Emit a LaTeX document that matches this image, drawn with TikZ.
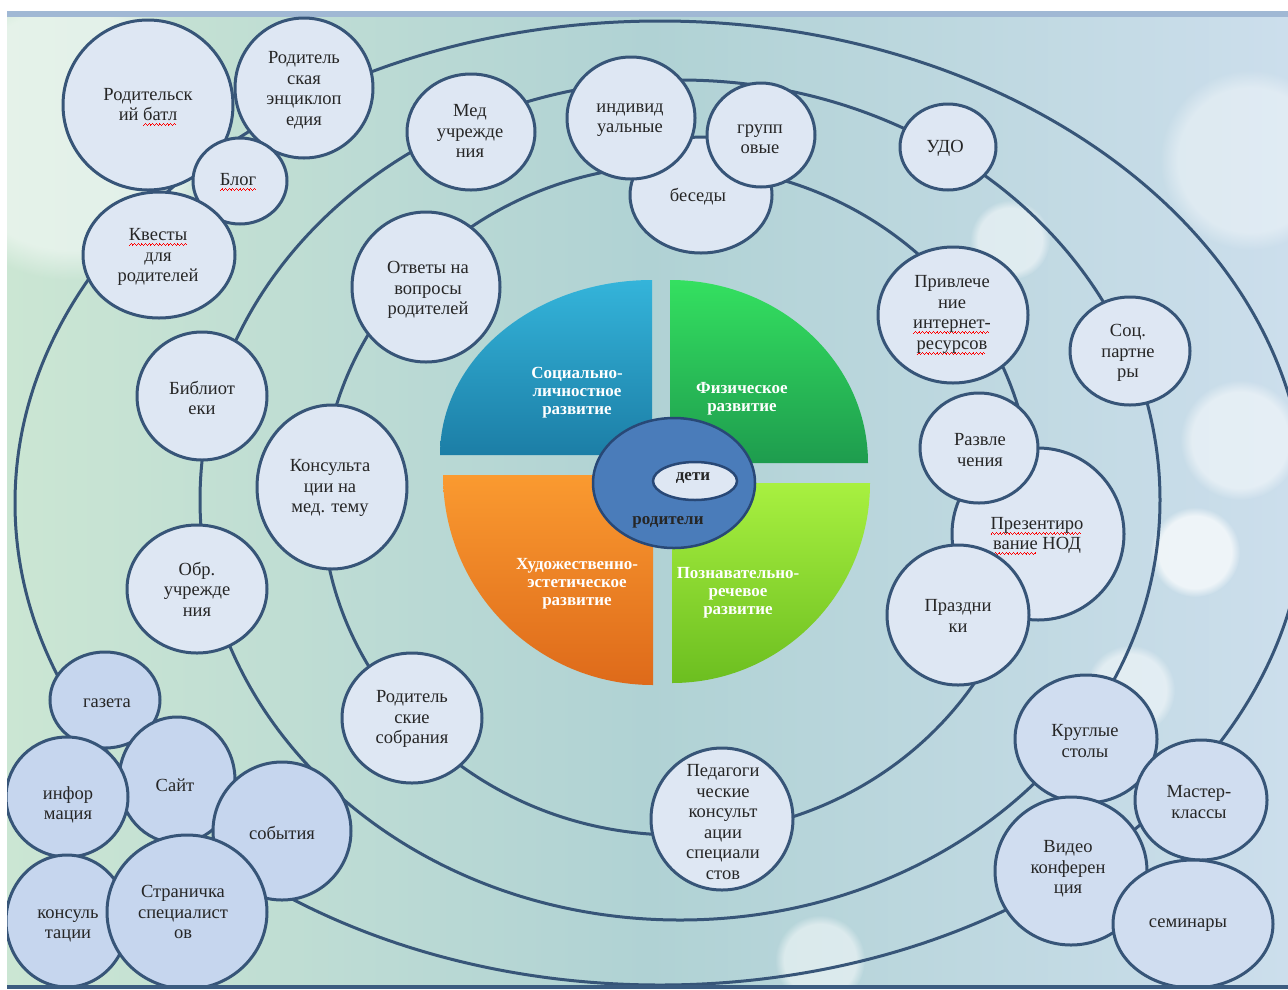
\documentclass[tikz,border=0pt]{standalone}
\usepackage{fontspec}
\setmainfont{Liberation Serif}
\usetikzlibrary{
    shapes.geometric,
    fadings
}
\definecolor{slideband}{RGB}{160,184,212}
\definecolor{slidedark}{RGB}{60,92,128}
\definecolor{bgmint}{RGB}{203,230,211}
\definecolor{bgteal}{RGB}{176,210,212}
\definecolor{bgsky}{RGB}{204,222,236}
\definecolor{orbitline}{RGB}{55,85,120}
\definecolor{bubblefill}{RGB}{222,231,243}
\definecolor{bubblemid}{RGB}{208,221,240}
\definecolor{bubbledeep}{RGB}{198,214,238}
\definecolor{ringblue}{RGB}{74,124,186}
\definecolor{ringline}{RGB}{40,72,118}
\definecolor{socblue}{RGB}{52,180,218}
\definecolor{socbluedark}{RGB}{28,126,166}
\definecolor{fizgreen}{RGB}{52,224,96}
\definecolor{fizgreendark}{RGB}{30,156,78}
\definecolor{hudorange}{RGB}{250,154,48}
\definecolor{hudorangedark}{RGB}{222,106,26}
\definecolor{poznlime}{RGB}{168,240,64}
\definecolor{poznlimedark}{RGB}{108,190,32}
% red wavy underline made of tiny rules
\newsavebox\splbox
\newcommand{\splwave}{\hbox{\rule[-5.5pt]{0.9pt}{0.8pt}\rule[-4.6pt]{0.9pt}{0.8pt}\rule[-3.7pt]{0.9pt}{0.8pt}\rule[-4.6pt]{0.9pt}{0.8pt}}}
\newcommand{\spl}[1]{\sbox\splbox{#1}\rlap{\color{red}\hbox to \wd\splbox{\leaders\splwave\hfil}}\usebox\splbox}
\tikzset{
    orbit/.style={draw=orbitline, line width=3pt},
    bubble/.style 2 args={ellipse, draw=orbitline, line width=3pt, fill=bubblefill,
        inner sep=0pt, minimum width=#1pt, minimum height=#2pt},
    btext/.style={align=center, inner sep=0pt, text=black!85,
        font=\fontsize{18.5}{20.5}\selectfont},
    qtext/.style={align=center, inner sep=0pt, text=white,
        font=\fontsize{17}{18}\selectfont\bfseries},
    bokeh/.style={white, path fading=circle with fuzzy edge 20 percent},
}

\begin{document}
\begin{tikzpicture}[x=1pt, y=-1pt]
    \useasboundingbox (0,0) rectangle (1288,989);
    \begin{scope}
        \clip (7,11) rectangle (1288,987);
        %% Background
        \shade[left color=bgmint, right color=bgsky, middle color=bgteal] (7,11) rectangle (1288,987);
        \fill[bokeh, opacity=0.5] (70,130) circle[radius=150pt];
        \fill[bokeh, opacity=0.7] (1195,552) circle[radius=45pt];
        \fill[bokeh, opacity=0.5] (1240,440) circle[radius=60pt];
        \fill[bokeh, opacity=0.5] (1010,240) circle[radius=40pt];
        \fill[bokeh, opacity=0.5] (1130,690) circle[radius=45pt];
        \fill[bokeh, opacity=0.5] (820,960) circle[radius=45pt];
        \fill[bokeh, opacity=0.4] (1250,160) circle[radius=90pt];
        \fill[slideband] (7,11) rectangle (1288,17);

        %% Orbits
        \draw[orbit] (660,503) ellipse[x radius=645pt, y radius=482pt];
        \draw[orbit] (680,500) ellipse[x radius=480pt, y radius=420pt];
        \draw[orbit] (677,500) ellipse[x radius=355pt, y radius=335pt];

        %% Centre
        % social
        \shade[top color=socblue, bottom color=socbluedark] (652,455) -- ++(-212,0)
            arc[start angle=180, end angle=90, x radius=212pt, y radius=175pt] -- cycle;
        % physical
        \shade[top color=fizgreen, bottom color=fizgreendark] (670,463) -- ++(198,0)
            arc[start angle=0, end angle=90, x radius=198pt, y radius=183pt] -- cycle;
        % artistic
        \shade[top color=hudorange, bottom color=hudorangedark] (653,475) -- ++(-210,0)
            arc[start angle=180, end angle=270, x radius=210pt, y radius=210pt] -- cycle;
        % cognitive
        \shade[top color=poznlime, bottom color=poznlimedark] (672,483) -- ++(198,0)
            arc[start angle=0, end angle=-90, x radius=198pt, y radius=200pt] -- cycle;
        \node[qtext] (soc) at (577,393) {Социально-\\личностное\\развитие};
        \node[qtext] (fiz) at (742,399) {Физическое\\развитие};
        \node[qtext] (hud) at (577,584) {Художественно-\\эстетическое\\развитие};
        \node[qtext] (pozn) at (738,593) {Познавательно-\\речевое\\развитие};
        \node[ellipse, fill=ringblue, draw=ringline, line width=2.5pt, inner sep=0pt,
            minimum width=162pt, minimum height=130pt] (roditeli) at (674,483) {};
        \node[ellipse, fill=bubblefill, draw=ringline, line width=2.5pt, inner sep=0pt,
            minimum width=84pt, minimum height=38pt] (deti) at (695,481) {};
        \node[btext, font=\fontsize{17}{18}\selectfont\bfseries] (deti-t) at (693,478) {дети};
        \node[btext, font=\fontsize{17}{18}\selectfont\bfseries] (roditeli-t) at (668,522) {родители};

        %% Top left
        \node[bubble={170}{170}] (batl) at (148,105) {};
        \node[btext] (batl-t) at (148,107) {Родительск\\ий \spl{батл}};
        \node[bubble={138}{140}] (entsikl) at (304,88) {};
        \node[btext] (entsikl-t) at (304,90) {Родитель\\ская\\энциклоп\\едия};
        \node[bubble={94}{86}] (blog) at (240,181) {};
        \node[btext] (blog-t) at (238,182) {\spl{Блог}};
        \node[bubble={152}{126}] (kvesty) at (159,255) {};
        \node[btext] (kvesty-t) at (158,257) {\spl{Квесты}\\для\\родителей};

        %% Top
        \node[bubble={128}{116}] (med) at (471,132) {};
        \node[btext] (med-t) at (470,131) {Мед\\учрежде\\ния};
        \node[bubble={142}{116}] (besedy) at (701,195) {};
        \node[btext] (besedy-t) at (698,197) {беседы};
        \node[bubble={128}{122}] (individ) at (631,118) {};
        \node[btext] (individ-t) at (630,120) {индивид\\уальные};
        \node[bubble={108}{104}] (gruppy) at (761,135) {};
        \node[btext] (gruppy-t) at (760,139) {групп\\овые};
        \node[bubble={96}{86}] (udo) at (948,147) {};
        \node[btext] (udo-t) at (945,148) {УДО};

        %% Right
        \node[bubble={150}{136}] (internet) at (953,315) {};
        \node[btext] (internet-t) at (952,315) {Привлече\\ние\\\spl{интернет-}\\\spl{ресурсов}};
        \node[bubble={120}{108}] (partnery) at (1130,351) {};
        \node[btext] (partnery-t) at (1128,353) {Соц.\\партне\\ры};
        \node[bubble={172}{172}] (nod) at (1038,534) {};
        \node[btext] (nod-t) at (1037,536) {\spl{Презентиро}\\\spl{вание} НОД};
        \node[bubble={118}{110}] (razvl) at (979,448) {};
        \node[btext] (razvl-t) at (980,450) {Развле\\чения};
        \node[bubble={142}{140}] (prazdn) at (958,615) {};
        \node[btext] (prazdn-t) at (958,616) {Праздни\\ки};

        %% Bottom right
        \node[bubble={142}{128}, fill=bubblemid] (stoly) at (1086,739) {};
        \node[btext] (stoly-t) at (1085,741) {Круглые\\столы};
        \node[bubble={132}{120}, fill=bubblemid] (master) at (1201,800) {};
        \node[btext] (master-t) at (1199,802) {Мастер-\\классы};
        \node[bubble={152}{148}, fill=bubblemid] (video) at (1071,871) {};
        \node[btext] (video-t) at (1068,869) {Видео\\конферен\\ция};
        \node[bubble={160}{128}, fill=bubblemid] (seminary) at (1193,924) {};
        \node[btext] (seminary-t) at (1188,925) {семинары};

        %% Bottom
        \node[bubble={142}{142}] (pedagog) at (722,819) {};
        \node[btext] (pedagog-t) at (723,822) {Педагоги\\ческие\\консульт\\ации\\специали\\стов};
        \node[bubble={140}{130}] (sobraniya) at (412,718) {};
        \node[btext] (sobraniya-t) at (412,719) {Родитель\\ские\\собрания};

        %% Left
        \node[bubble={148}{150}] (otvety) at (426,287) {};
        \node[btext] (otvety-t) at (428,290) {Ответы на\\вопросы\\родителей};
        \node[bubble={150}{164}] (konsmed) at (332,487) {};
        \node[btext] (konsmed-t) at (330,488) {Консульта\\ции на\\мед. тему};
        \node[bubble={130}{128}] (bibl) at (202,396) {};
        \node[btext] (bibl-t) at (202,398) {Библиот\\еки};
        \node[bubble={140}{128}] (obr) at (197,589) {};
        \node[btext] (obr-t) at (197,589) {Обр.\\учрежде\\ния};

        %% Bottom left
        \node[bubble={110}{96}, fill=bubbledeep] (gazeta) at (105,700) {};
        \node[btext] (gazeta-t) at (107,703) {газета};
        \node[bubble={116}{126}, fill=bubbledeep] (sait) at (177,780) {};
        \node[btext] (sait-t) at (175,785) {Сайт};
        \node[bubble={122}{120}, fill=bubbledeep] (info) at (67,797) {};
        \node[btext] (info-t) at (68,805) {инфор\\мация};
        \node[bubble={138}{138}, fill=bubbledeep] (sobytiya) at (282,831) {};
        \node[btext] (sobytiya-t) at (282,833) {события};
        \node[bubble={122}{132}, fill=bubbledeep] (konsult) at (67,921) {};
        \node[btext] (konsult-t) at (68,926) {консуль\\тации};
        \node[bubble={160}{154}, fill=bubbledeep] (stranichka) at (187,912) {};
        \node[btext] (stranichka-t) at (183,912) {Страничка\\специалист\\ов};
    \end{scope}
    \fill[slidedark] (7,985) rectangle (1288,989);
\end{tikzpicture}
\end{document}
